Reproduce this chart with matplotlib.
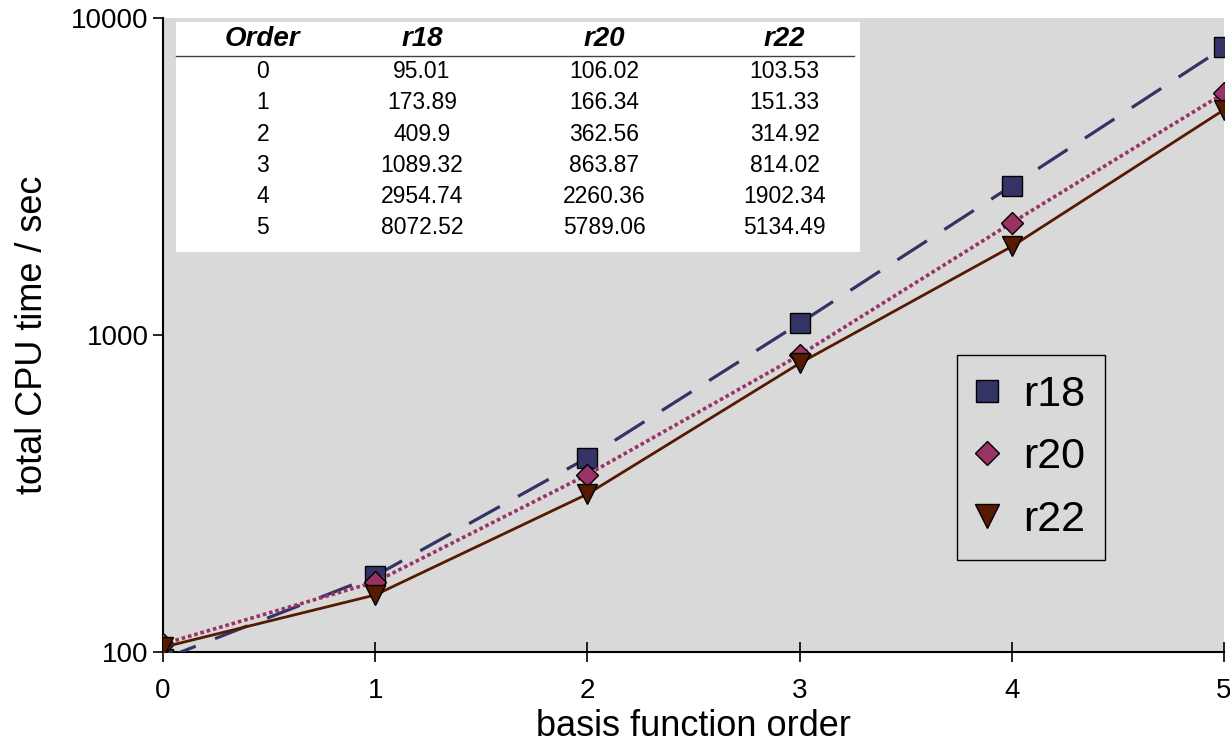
import matplotlib
matplotlib.use("Agg")
import matplotlib.pyplot as plt
from matplotlib.patches import Rectangle

plt.rcParams['font.family'] = ['Liberation Sans', 'DejaVu Sans']

## data
order = [0, 1, 2, 3, 4, 5]
r18 = [95.01, 173.89, 409.9, 1089.32, 2954.74, 8072.52]
r20 = [106.02, 166.34, 362.56, 863.87, 2260.36, 5789.06]
r22 = [103.53, 151.33, 314.92, 814.02, 1902.34, 5134.49]
series_names = ['r18', 'r20', 'r22']
col_labels = ['Order', 'r18', 'r20', 'r22']

fig = plt.figure(figsize=(12.3, 7.47), dpi=100)
ax = fig.add_axes([163 / 1230, 1 - 652 / 747, 1061 / 1230, 634 / 747])
ax.set_facecolor('#d9d9d9')

ax.plot(order, r18, color='#333366', lw=2.3, dashes=(11, 6.5), marker='s',
        ms=14, mfc='#333366', mec='black', mew=1, label='r18', zorder=3)
ax.plot(order, r20, color='#993366', lw=2.6, dashes=(1, 0.8), marker='D',
        ms=11, mfc='#993366', mec='black', mew=1, label='r20', zorder=4)
ax.plot(order, r22, color='#551a00', lw=2, marker='v',
        ms=15, mfc='#551a00', mec='black', mew=1, label='r22', zorder=5)

ax.set_yscale('log')
ax.set_ylim(100, 10000)
ax.set_xlim(0, 5)
ax.set_xticks(order)
ax.set_yticks([100, 1000, 10000])
ax.set_yticklabels(['100', '1000', '10000'])
ax.minorticks_off()
ax.tick_params(labelsize=20, length=7, width=1.2, color='black')
ax.tick_params(axis='x', direction='inout', length=14, pad=12)
for s in ['top', 'right']:
    ax.spines[s].set_visible(False)
for s in ['left', 'bottom']:
    ax.spines[s].set_linewidth(1.5)

ax.set_xlabel('basis function order', fontsize=26, labelpad=3)
ax.set_ylabel('total CPU time / sec', fontsize=26, labelpad=15)

## table inset
ax.add_patch(Rectangle((0.012, 0.631), 0.645, 0.363, transform=ax.transAxes,
                       facecolor='white', edgecolor='none', zorder=6))
ax.plot([0.012, 0.651], [0.940, 0.940], transform=ax.transAxes,
        color='#404040', lw=1, zorder=7)
col_x = [0.094, 0.244, 0.416, 0.586]
row_y = [0.916, 0.866, 0.817, 0.768, 0.719, 0.670]
for cx, lab in zip(col_x, col_labels):
    ax.text(cx, 0.967, lab, transform=ax.transAxes, ha='center', va='center',
            fontsize=20, fontweight='bold', fontstyle='italic', zorder=8)
for i, ry in enumerate(row_y):
    vals = [str(order[i]), f"{r18[i]:g}", f"{r20[i]:g}", f"{r22[i]:g}"]
    for cx, v in zip(col_x, vals):
        ax.text(cx, ry, v, transform=ax.transAxes, ha='center', va='center',
                fontsize=16.5, zorder=8)

leg = ax.legend(loc='upper left', bbox_to_anchor=(0.748, 0.468), fontsize=31,
                frameon=True, fancybox=False, edgecolor='black',
                facecolor='#d9d9d9', framealpha=1, handlelength=0.5,
                handletextpad=0.6, labelspacing=0.53, borderpad=0.45,
                borderaxespad=0, markerscale=1.15)
for h in leg.get_lines():
    h.set_linestyle('none')
leg.get_frame().set_linewidth(1)

fig.savefig('out.png', dpi=100)
